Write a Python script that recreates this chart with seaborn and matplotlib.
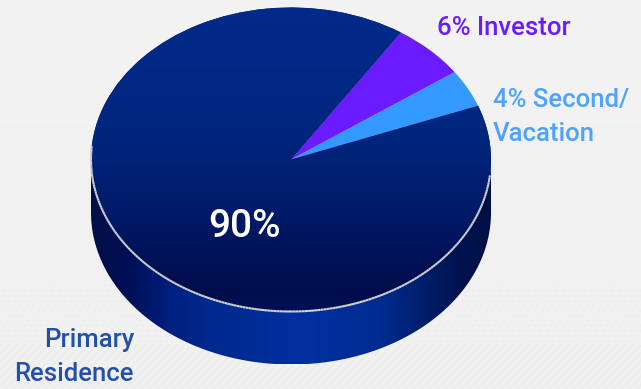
import numpy as np
import matplotlib
matplotlib.use("Agg")
import matplotlib.pyplot as plt
from matplotlib.collections import LineCollection
from matplotlib.colors import LinearSegmentedColormap
from matplotlib.patches import Polygon
import seaborn as sns

# Share of loans by occupancy type, counter-clockwise from the right
categories = ["Second/Vacation", "Investor", "Primary Residence"]
shares = [4, 6, 90]
slice_colors = ["#3399ff", "#6a1bff", "#00267f"]

sns.set_theme(style="white")
plt.rcParams["font.family"] = ["Roboto", "DejaVu Sans"]

W, H = 641, 389
CX, CY, RX, RY, DEPTH = 291.0, 159.5, 200.0, 152.0, 53.0 / 152.0

fig = plt.figure(figsize=(W / 100, H / 100), dpi=100, facecolor="#f1f1f1")
ax = fig.add_axes([0, 0, 1, 1])

wedges, _ = ax.pie(shares, colors=slice_colors, startangle=20.7, counterclock=True,
                   radius=1.0, center=(0, 0), frame=False,
                   wedgeprops={"linewidth": 0, "edgecolor": "none"})
ax.set_aspect("auto")
xlim = (-CX / RX, (W - CX) / RX)
ylim = ((CY - H) / RY, CY / RY)
ax.set_xlim(xlim)
ax.set_ylim(ylim)
ax.axis("off")

# Pale backdrop with a dotted weave that begins low on the page
yy, xx = np.mgrid[0:H, 0:W]
backdrop = 243.0 - 3.0 * (yy / H)
dotted = (yy >= 285) & ((xx + 2 * (yy // 5)) % 7 < 3) & (yy % 5 < 2)
hatched = (yy >= 345) & ((xx + yy) % 8 < 3)
backdrop = backdrop - 3.0 * dotted * (yy < 345) - 4.0 * hatched
ax.imshow(backdrop, cmap="gray", vmin=0, vmax=255, aspect="auto", zorder=0,
          extent=(xlim[0], xlim[1], ylim[0], ylim[1]), origin="upper", interpolation="bilinear")

# Cylinder wall: horizontal shading clipped to the band under the front rim
theta = np.linspace(np.pi, 2 * np.pi, 240)
rim = np.column_stack([np.cos(theta), np.sin(theta)])
wall_path = np.vstack([rim, (rim - [0, DEPTH])[::-1]])
wall = Polygon(wall_path, closed=True, transform=ax.transData, facecolor="none", edgecolor="none")
ax.add_patch(wall)
wall_cmap = LinearSegmentedColormap.from_list(
    "wall", [(0.0, "#000f45"), (0.10, "#001058"), (0.20, "#002080"), (0.30, "#00298f"),
             (0.55, "#00309f"), (0.72, "#002c90"), (0.82, "#001f70"), (0.92, "#001350"),
             (1.0, "#000f45")])
wall_img = ax.imshow(np.linspace(0, 1, 400)[None, :], cmap=wall_cmap, aspect="auto", zorder=1,
                     extent=(-1, 1, -1 - DEPTH, 0), vmin=0, vmax=1)
wall_img.set_clip_path(wall)

# Top face of the large slice: dark blue falling towards the front
for w in wedges:
    w.set_zorder(2)
top_cmap = LinearSegmentedColormap.from_list(
    "top", [(0.0, "#002a8a"), (0.40, "#00267f"), (0.68, "#001a68"), (0.93, "#000d4a"), (1.0, "#001055")])
top_img = ax.imshow(np.linspace(0, 1, 300)[:, None], cmap=top_cmap, aspect="auto", zorder=3,
                    extent=(-1, 1, -1, 1), origin="upper", vmin=0, vmax=1)
top_img.set_clip_path(wedges[2])

# Pale rim along the front edge of the top face
t = np.linspace(np.radians(175), np.radians(354), 200)
pts = np.column_stack([np.cos(t), np.sin(t)])
segs = np.stack([pts[:-1], pts[1:]], axis=1)
ax.add_collection(LineCollection(segs, colors="#d0d0d0", linewidths=1.5, zorder=4))


def px(x, y):
    return (x - CX) / RX, (CY - y) / RY


ax.text(*px(244, 227), f"{shares[2]}%", color="white", fontsize=28, ha="center", va="center",
        fontweight="medium", zorder=5)
ax.text(*px(437, 28), f"{shares[1]}% {categories[1]}", color="#6a1bff", fontsize=18.5,
        ha="left", va="center", fontweight="medium", zorder=5)
ax.text(*px(493, 117), f"{shares[0]}% Second/\nVacation", color="#4da3ff", fontsize=18.5,
        ha="left", va="center", linespacing=1.5, fontweight="medium", zorder=5)
ax.text(*px(134, 357), "Primary\nResidence", color="#2350a8", fontsize=18.5,
        ha="right", va="center", linespacing=1.5, fontweight="medium", zorder=5)

fig.savefig("out.png", dpi=100, facecolor=fig.get_facecolor())
